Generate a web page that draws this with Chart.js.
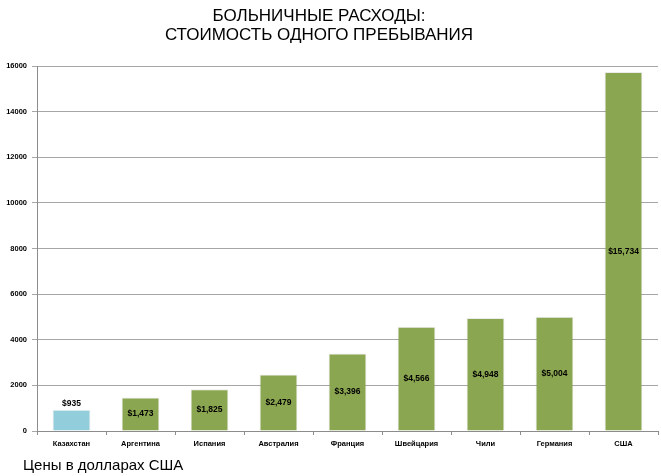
<!DOCTYPE html>
<html>
<head>
<meta charset="utf-8">
<script src="https://cdn.jsdelivr.net/npm/chart.js@4"></script>
<style>
  html, body { margin: 0; padding: 0; background: #fff; }
  #wrap { position: relative; width: 661px; height: 476px; }
  #title {
    position: absolute; left: 0; top: 6px; width: 638px; text-align: center;
    font: 17px/19px "Liberation Sans", Arial, sans-serif; color: #000;
  }
  #footer {
    position: absolute; left: 23px; top: 456px;
    font: 15px "Liberation Sans", Arial, sans-serif; color: #000;
  }
</style>
</head>
<body>
<div id="wrap">
  <canvas id="chart" width="661" height="476"></canvas>
  <div id="title"></div>
  <div id="footer">Цены в долларах США</div>
</div>
<script>
// данные графика
const countries = ['Казахстан', 'Аргентина', 'Испания', 'Австралия', 'Франция', 'Швейцария', 'Чили', 'Германия', 'США'];
const costs = [935, 1473, 1825, 2479, 3396, 4566, 4948, 5004, 15734];
const barColors = ['#92CDDC', '#8BA650', '#8BA650', '#8BA650', '#8BA650', '#8BA650', '#8BA650', '#8BA650', '#8BA650'];
const titleLines = ['БОЛЬНИЧНЫЕ РАСХОДЫ:', 'СТОИМОСТЬ ОДНОГО ПРЕБЫВАНИЯ'];

const FONT = '"Liberation Sans", Arial, sans-serif';

document.getElementById('title').innerHTML = titleLines.join('<br>');

/**
 * Подписи значений: внутри столбца по центру, над столбцом если он низкий
 */
const valueLabels = {
  id: 'valueLabels',
  afterDatasetsDraw(chart) {
    const ctx = chart.ctx;
    const meta = chart.getDatasetMeta(0);
    ctx.save();
    ctx.font = 'bold 8.5px ' + FONT;
    ctx.fillStyle = '#000';
    ctx.textAlign = 'center';
    ctx.textBaseline = 'middle';
    meta.data.forEach((bar, i) => {
      const v = costs[i];
      const text = '$' + v.toLocaleString('en-US');
      const h = bar.base - bar.y;
      const y = h < 25 ? bar.y - 6 : bar.y + h / 2;
      ctx.fillText(text, bar.x, y);
    });
    ctx.restore();
  }
};

new Chart(document.getElementById('chart'), {
  type: 'bar',
  data: {
    labels: countries,
    datasets: [{
      data: costs,
      backgroundColor: barColors,
      borderColor: 'rgba(0,0,0,0.08)',
      borderWidth: 1,
      barPercentage: 0.55,
      categoryPercentage: 1
    }]
  },
  options: {
    responsive: false,
    animation: false,
    layout: { padding: { left: 0, right: 3, top: 66, bottom: 0 } },
    plugins: {
      legend: { display: false },
      tooltip: { enabled: false },
      title: { display: false }
    },
    scales: {
      x: {
        afterFit: (s) => { s.height = 45; },
        grid: {
          display: true,
          drawOnChartArea: false,
          drawTicks: true,
          tickLength: 4,
          offset: true,
          color: '#8c8c8c'
        },
        border: { color: '#8c8c8c' },
        ticks: {
          color: '#000',
          padding: 4,
          maxRotation: 0,
          autoSkip: false,
          font: { family: FONT, size: 7.5, weight: 'bold' }
        }
      },
      y: {
        min: 0,
        max: 16000,
        afterFit: (s) => { s.width = 37; },
        grid: {
          color: '#a6a6a6',
          tickLength: 5
        },
        border: { color: '#8c8c8c' },
        ticks: {
          stepSize: 2000,
          color: '#000',
          padding: 5,
          callback: (v) => String(v),
          font: { family: FONT, size: 7.5, weight: 'bold' }
        }
      }
    }
  },
  plugins: [valueLabels]
});
</script>
</body>
</html>
